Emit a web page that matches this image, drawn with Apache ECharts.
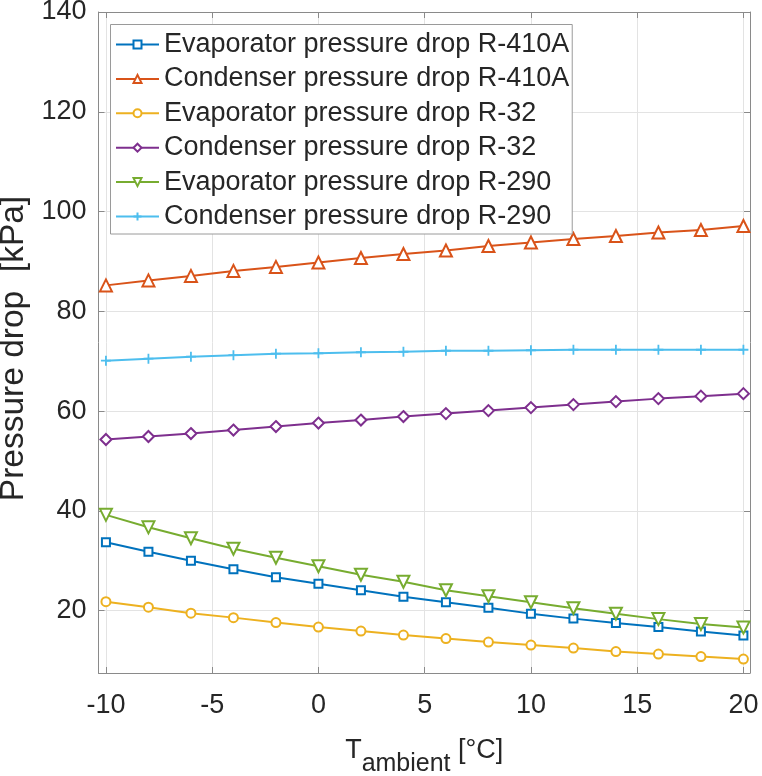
<!DOCTYPE html>
<html>
<head>
<meta charset="utf-8">
<script src="https://cdn.jsdelivr.net/npm/echarts@6/dist/echarts.min.js"></script>
<style>
  html, body { margin: 0; padding: 0; background: #fff; }
  #chart { width: 762px; height: 776px; }
</style>
</head>
<body>
<div id="chart"></div>
<script>
// ambient temperature, °C
var temps = [-10, -8, -6, -4, -2, 0, 2, 4, 6, 8, 10, 12, 14, 16, 18, 20];

// pressure drop, kPa
var evapR410A = [33.7, 31.8, 30.0, 28.3, 26.7, 25.4, 24.1, 22.8, 21.7, 20.6, 19.4, 18.4, 17.5, 16.7, 15.8, 15.0];
var condR410A = [85.2, 86.2, 87.1, 88.1, 88.9, 89.8, 90.7, 91.5, 92.2, 93.1, 93.8, 94.5, 95.1, 95.8, 96.3, 97.1];
var evapR32 = [21.8, 20.7, 19.5, 18.6, 17.6, 16.7, 15.9, 15.1, 14.4, 13.7, 13.1, 12.5, 11.8, 11.3, 10.8, 10.3];
var condR32 = [54.3, 54.9, 55.5, 56.2, 56.9, 57.6, 58.2, 58.9, 59.5, 60.1, 60.7, 61.3, 61.9, 62.5, 63.0, 63.5];
var evapR290 = [39.2, 36.7, 34.5, 32.4, 30.6, 28.9, 27.2, 25.8, 24.1, 22.9, 21.7, 20.5, 19.4, 18.3, 17.3, 16.6];
var condR290 = [70.1, 70.5, 70.9, 71.2, 71.5, 71.6, 71.8, 71.9, 72.1, 72.1, 72.2, 72.3, 72.3, 72.3, 72.3, 72.3];

var xTicks = [-10, -5, 0, 5, 10, 15, 20];
var yTicks = [20, 40, 60, 80, 100, 120, 140];

var FONT = 'Liberation Sans, Arial, Helvetica, sans-serif';
var AXIS_COLOR = '#8a8a8a';
var TEXT_COLOR = '#262626';

function pairs(ys) {
    return temps.map(function (t, i) { return [t, ys[i]]; });
}

function makeSeries(name, ys, color, symbol, size, rotate) {
    return {
        name: name,
        type: 'line',
        data: pairs(ys),
        symbol: symbol,
        symbolSize: size,
        symbolRotate: rotate || 0,
        showAllSymbol: true,
        lineStyle: { color: color, width: 2 },
        itemStyle: { color: color, borderColor: color, borderWidth: 1.8 },
        emphasis: { disabled: true },
        z: 3
    };
}

var myChart = echarts.init(document.getElementById('chart'));

var option = {
    animation: false,
    backgroundColor: '#fff',
    grid: {
        left: 98.5,
        right: 12,
        top: 12,
        bottom: 103,
        outerBoundsMode: 'none'
    },
    legend: {
        orient: 'vertical',
        left: 110.5,
        top: 24.5,
        padding: [6.5, 3, 4, 4.5],
        itemGap: 7.4,
        itemWidth: 43,
        itemHeight: 10,
        backgroundColor: '#fff',
        borderColor: '#9a9a9a',
        borderWidth: 1,
        textStyle: {
            color: TEXT_COLOR,
            fontSize: 27,
            fontFamily: FONT,
            lineHeight: 27
        },
        data: [
            'Evaporator pressure drop R-410A',
            'Condenser pressure drop R-410A',
            'Evaporator pressure drop R-32',
            'Condenser pressure drop R-32',
            'Evaporator pressure drop R-290',
            'Condenser pressure drop R-290'
        ]
    },
    xAxis: [{
        type: 'value',
        min: -10.35,
        max: 20.31,
        name: '{t|T}{sub|ambient}{t| [°C]}',
        nameLocation: 'middle',
        nameGap: 51,
        nameTextStyle: {
            color: TEXT_COLOR,
            fontFamily: FONT,
            rich: {
                t: { fontSize: 27, fontFamily: FONT, color: TEXT_COLOR },
                sub: { fontSize: 25, fontFamily: FONT, color: TEXT_COLOR, padding: [28, 0, 0, 0] }
            }
        },
        axisLine: { show: true, onZero: false, lineStyle: { color: AXIS_COLOR, width: 1 } },
        axisTick: { show: true, inside: true, length: 6, customValues: xTicks, lineStyle: { color: AXIS_COLOR } },
        axisLabel: {
            customValues: xTicks,
            color: TEXT_COLOR,
            fontSize: 27,
            fontFamily: FONT,
            margin: 19
        },
        splitLine: { show: true, lineStyle: { color: '#e3e3e3', width: 1 } }
    }, {
        type: 'value',
        position: 'top',
        min: -10.35,
        max: 20.31,
        axisLine: { show: true, onZero: false, lineStyle: { color: AXIS_COLOR, width: 1 } },
        axisTick: { show: true, inside: true, length: 6, customValues: xTicks, lineStyle: { color: AXIS_COLOR } },
        axisLabel: { show: false },
        splitLine: { show: false }
    }],
    yAxis: [{
        type: 'value',
        min: 7.5,
        max: 140,
        name: 'Pressure drop  [kPa]',
        nameLocation: 'middle',
        nameGap: 53,
        nameTextStyle: {
            color: TEXT_COLOR,
            fontSize: 33.5,
            fontFamily: FONT,
            padding: [0, 12, 0, 0]
        },
        axisLine: { show: true, onZero: false, lineStyle: { color: AXIS_COLOR, width: 1 } },
        axisTick: { show: true, inside: true, length: 6, customValues: yTicks, lineStyle: { color: AXIS_COLOR } },
        axisLabel: {
            customValues: yTicks,
            color: TEXT_COLOR,
            fontSize: 27,
            fontFamily: FONT,
            margin: 12
        },
        splitLine: { show: true, lineStyle: { color: '#e3e3e3', width: 1 } }
    }, {
        type: 'value',
        position: 'right',
        min: 7.5,
        max: 140,
        axisLine: { show: true, onZero: false, lineStyle: { color: AXIS_COLOR, width: 1 } },
        axisTick: { show: true, inside: true, length: 6, customValues: yTicks, lineStyle: { color: AXIS_COLOR } },
        axisLabel: { show: false },
        splitLine: { show: false }
    }],
    series: [
        makeSeries('Evaporator pressure drop R-410A', evapR410A, '#0072BD', 'emptyRect', 8),
        makeSeries('Condenser pressure drop R-410A', condR410A, '#D95319', 'emptyTriangle', 12),
        makeSeries('Evaporator pressure drop R-32', evapR32, '#EDB120', 'emptyCircle', 9),
        makeSeries('Condenser pressure drop R-32', condR32, '#7E2F8E', 'emptyDiamond', 11),
        makeSeries('Evaporator pressure drop R-290', evapR290, '#77AC30', 'emptyTriangle', 12, 180),
        makeSeries('Condenser pressure drop R-290', condR290, '#4DBEEE', 'path://M5,0L5,10M0,5L10,5', 10)
    ]
};

myChart.setOption(option);
</script>
</body>
</html>
